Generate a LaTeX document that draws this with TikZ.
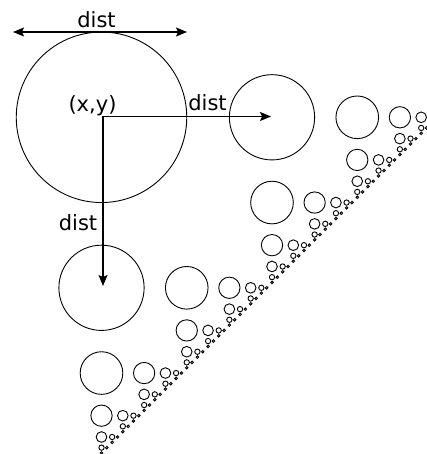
\documentclass[tikz,border=0pt]{standalone}
\usepackage{fontspec}
\setmainfont{DejaVu Sans}
\usetikzlibrary{arrows.meta}
\tikzset{
  circ/.style={draw=black, line width=0.9pt},
  arr/.style={line width=1.3pt, -{Stealth[length=11pt,width=9pt,inset=2pt]}},
  darr/.style={line width=1.3pt, {Stealth[length=11pt,width=9pt,inset=2pt]}-{Stealth[length=11pt,width=9pt,inset=2pt]}},
  lbl/.style={font=\fontsize{21pt}{24pt}\selectfont, inner sep=0pt, anchor=base}
}
\def\circrec#1#2#3#4{%
  \pgfmathsetmacro\crr{#3/2}%
  \draw[circ] (#1,#2) circle[radius=\crr pt];%
  \ifnum#4>1 %
    \pgfmathsetmacro\crx{#1+#3}%
    \pgfmathsetmacro\cry{#2+#3}%
    \pgfmathsetmacro\crh{#3/2}%
    \pgfmathtruncatemacro\crl{#4-1}%
    \edef\crnext{\noexpand\circrec{\crx}{#2}{\crh}{\crl}\noexpand\circrec{#1}{\cry}{\crh}{\crl}}%
    \crnext
  \fi}
\begin{document}
\begin{tikzpicture}[x=1pt,y=-1pt]
\useasboundingbox (0,0) rectangle (427,454);
\circrec{101.5}{117.3}{170.5}{7}
\coordinate (o) at (103,116.5);
\coordinate (rt) at (271,116.5);
\coordinate (dn) at (103,286);
\coordinate (tl) at (13,32);
\coordinate (tr) at (187,32);
\draw[arr] (o) -- (rt);
\draw[arr] (o) -- (dn);
\draw[darr] (tl) -- (tr);
\node[lbl] (dtop) at (96.5,28) {dist};
\node[lbl] (xy) at (92.5,112) {(x,y)};
\node[lbl] (dright) at (207.5,111) {dist};
\node[lbl] (dleft) at (78,230) {dist};
\end{tikzpicture}
\end{document}
